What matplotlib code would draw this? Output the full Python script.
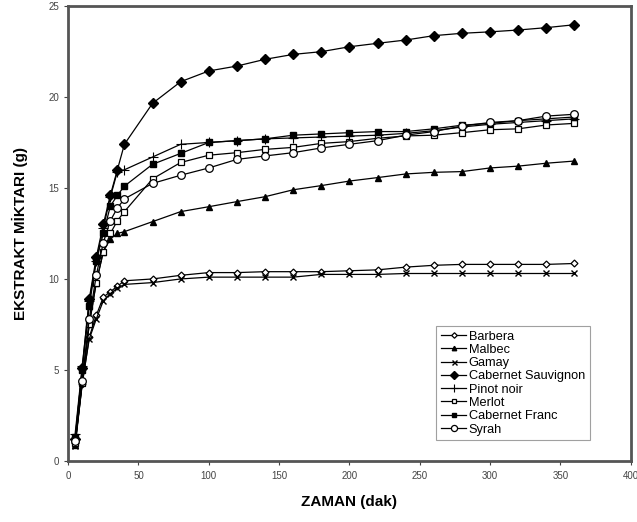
import matplotlib
matplotlib.use("Agg")
import matplotlib.pyplot as plt

plt.rcParams['font.family'] = ['Liberation Sans', 'DejaVu Sans']

times = [5, 10, 15, 20, 25, 30, 35, 40, 60, 80, 100, 120, 140, 160, 180, 200,
         220, 240, 260, 280, 300, 320, 340, 360]

barbera = [1.0, 4.2, 6.8, 8.0, 9.0, 9.3, 9.6, 9.9, 10.0, 10.2, 10.35, 10.35, 10.4, 10.4,
           10.4, 10.45, 10.5, 10.65, 10.75, 10.8, 10.8, 10.8, 10.8, 10.85]
malbec = [0.9, 4.5, 7.5, 9.8, 11.5, 12.2, 12.5, 12.6, 13.15, 13.7, 13.97, 14.25, 14.52, 14.9,
          15.13, 15.38, 15.57, 15.77, 15.86, 15.9, 16.1, 16.2, 16.36, 16.48]
gamay = [0.8, 4.3, 6.7, 7.8, 8.8, 9.2, 9.5, 9.7, 9.8, 10.0, 10.1, 10.1, 10.1, 10.1,
         10.25, 10.25, 10.25, 10.3, 10.3, 10.3, 10.3, 10.3, 10.3, 10.3]
cab_sauv = [1.2, 5.1, 8.9, 11.2, 13.0, 14.6, 16.0, 17.4, 19.65, 20.84, 21.43, 21.7, 22.07,
            22.34, 22.49, 22.76, 22.95, 23.13, 23.37, 23.5, 23.58, 23.68, 23.81, 23.97]
pinot = [1.5, 5.2, 8.8, 11.0, 12.8, 14.5, 15.9, 16.0, 16.7, 17.4, 17.5, 17.6, 17.7, 17.75,
         17.8, 17.85, 17.9, 18.0, 18.15, 18.35, 18.5, 18.6, 18.7, 18.8]
merlot = [1.0, 4.3, 7.5, 9.8, 11.5, 12.5, 13.2, 13.7, 15.5, 16.4, 16.8, 16.94, 17.12, 17.23,
          17.45, 17.55, 17.73, 17.86, 17.9, 18.04, 18.2, 18.25, 18.46, 18.55]
cab_franc = [1.3, 5.0, 8.5, 11.0, 12.5, 14.0, 14.6, 15.1, 16.3, 16.9, 17.5, 17.6, 17.7, 17.9,
             17.97, 18.04, 18.1, 18.1, 18.25, 18.45, 18.55, 18.7, 18.8, 18.9]
syrah = [1.1, 4.4, 7.8, 10.2, 12.0, 13.2, 13.9, 14.4, 15.25, 15.7, 16.1, 16.57, 16.76, 16.94,
         17.2, 17.4, 17.6, 17.9, 18.1, 18.4, 18.6, 18.7, 18.95, 19.05]

series = [
    ("Barbera", barbera, dict(marker='D', ms=3.5, mfc='white', mec='black', mew=0.9)),
    ("Malbec", malbec, dict(marker='^', ms=4, mfc='black', mec='black')),
    ("Gamay", gamay, dict(marker='x', ms=4.5, mfc='black', mec='black', mew=1.0)),
    ("Cabernet Sauvignon", cab_sauv, dict(marker='D', ms=5.5, mfc='black', mec='black')),
    ("Pinot noir", pinot, dict(marker='+', ms=7, mec='black', mew=0.8)),
    ("Merlot", merlot, dict(marker='s', ms=4, mfc='white', mec='black', mew=0.9)),
    ("Cabernet Franc", cab_franc, dict(marker='s', ms=4, mfc='black', mec='black')),
    ("Syrah", syrah, dict(marker='o', ms=5.5, mfc='white', mec='black', mew=0.9)),
]

fig = plt.figure(figsize=(6.37, 5.22), dpi=100)
ax = fig.add_axes([0.107, 0.117, 0.883, 0.8715])

for name, vals, style in series:
    ax.plot(times, vals, color='black', lw=0.9, label=name, **style)

ax.set_xlim(0, 400)
ax.set_ylim(0, 25)
ax.set_xticks(range(0, 401, 50))
ax.set_yticks(range(0, 26, 5))
ax.tick_params(axis='both', labelsize=7, colors='#444444', length=3, width=0.8, direction='out')
ax.tick_params(axis='x', pad=4)
for sp in ax.spines.values():
    sp.set_color('#555555')
    sp.set_linewidth(2.0)

ax.set_xlabel("ZAMAN (dak)", fontsize=11, fontweight='bold', labelpad=10)
ax.set_ylabel("EKSTRAKT MİKTARI (g)", fontsize=11, fontweight='bold', labelpad=15)

leg = ax.legend(loc='lower right', bbox_to_anchor=(0.927, 0.046), fontsize=9.2,
                frameon=True, fancybox=False, edgecolor='#888888', borderpad=0.35,
                labelspacing=0.1, handlelength=2.0, handletextpad=0.2, borderaxespad=0,
                markerscale=0.8)
leg.get_frame().set_linewidth(0.8)

fig.savefig("out.png", dpi=100)
